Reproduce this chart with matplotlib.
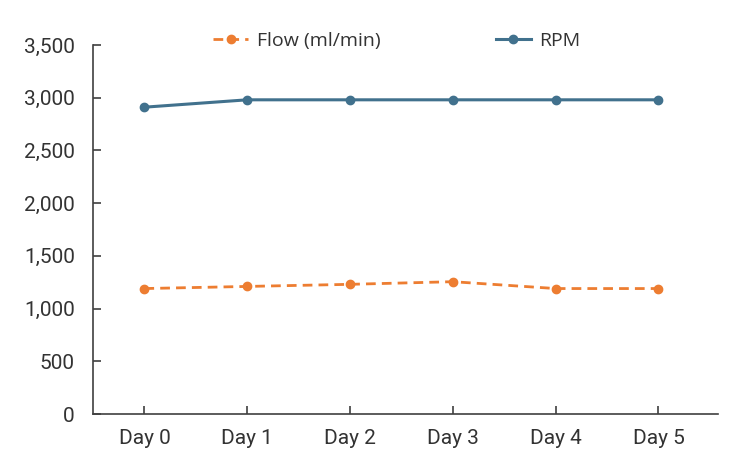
import matplotlib
matplotlib.use("Agg")
import matplotlib.pyplot as plt
from matplotlib.ticker import FuncFormatter, MultipleLocator

days = ["Day 0", "Day 1", "Day 2", "Day 3", "Day 4", "Day 5"]
flow = [1190, 1210, 1230, 1255, 1190, 1190]
rpm = [2910, 2980, 2980, 2980, 2980, 2980]

plt.rcParams['font.family'] = ['Roboto', 'DejaVu Sans']

fig = plt.figure(figsize=(7.35, 4.73), dpi=100)
ax = fig.add_axes([0.1265, 0.1247, 0.977 - 0.1265, 0.9049 - 0.1247])

x = list(range(len(days)))
ax.plot(x, flow, color='#ED7D31', linestyle=(0, (3.5, 2.2)), linewidth=2.0,
        marker='o', markersize=6, label='Flow (ml/min)')
ax.plot(x, rpm, color='#41718D', linestyle='-', linewidth=2.2,
        marker='o', markersize=6, label='RPM')

ax.set_ylim(0, 3500)
ax.set_xlim(-0.5, 5.58)
ax.yaxis.set_major_locator(MultipleLocator(500))
ax.yaxis.set_major_formatter(FuncFormatter(lambda v, p: f"{int(v):,}"))
ax.set_xticks(x)
ax.set_xticklabels(days)

for s in ['top', 'right']:
    ax.spines[s].set_visible(False)
for s in ['left', 'bottom']:
    ax.spines[s].set_color('#404040')
    ax.spines[s].set_linewidth(1.2)

ax.tick_params(axis='both', direction='in', length=6, width=1.2, color='#404040',
               labelsize=15, labelcolor='#333333')
ax.tick_params(axis='y', pad=13)
ax.tick_params(axis='x', pad=11)

leg = fig.legend(loc='center', bbox_to_anchor=(0.54, 0.913), ncol=2, frameon=False,
                 prop={'family': ['Open Sans', 'DejaVu Sans'], 'size': 14},
                 handlelength=1.8, columnspacing=5.9, handletextpad=0.45,
                 labelcolor='#333333')

fig.savefig('out.png', dpi=100)
